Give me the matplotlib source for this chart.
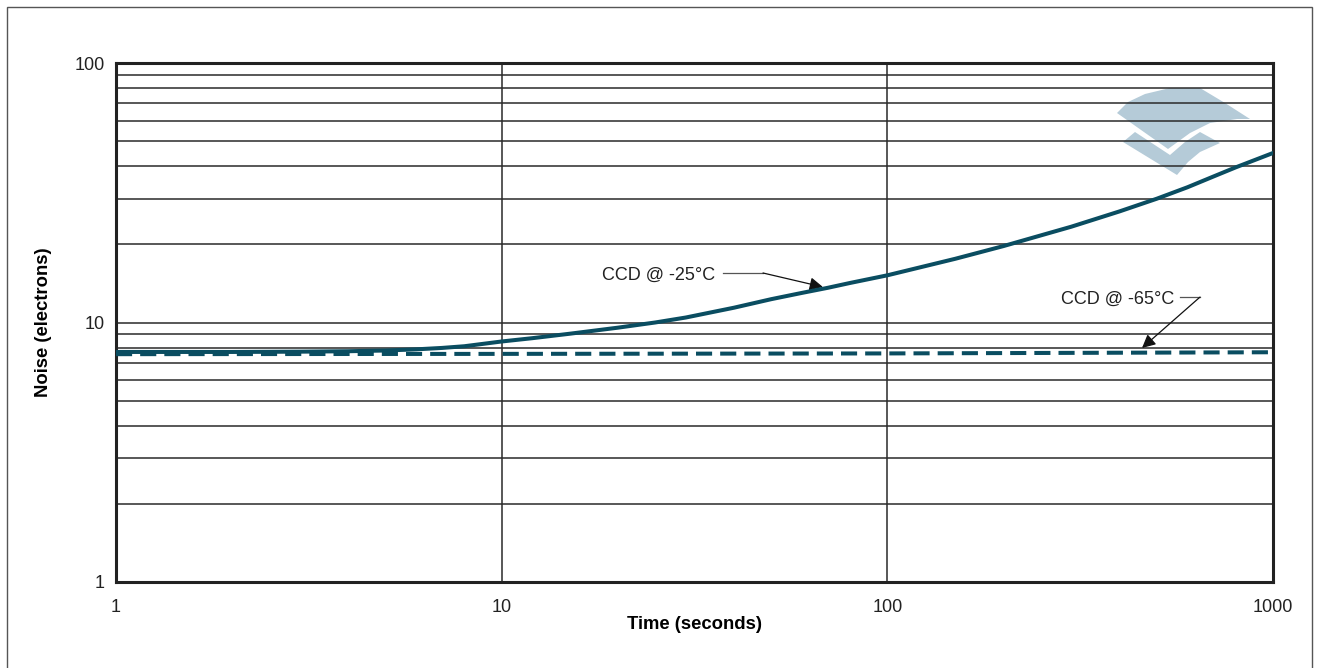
import matplotlib
matplotlib.use("Agg")
import matplotlib.pyplot as plt
from matplotlib.patches import Polygon, Rectangle

plt.rcParams['font.family'] = ['Liberation Sans', 'DejaVu Sans']

# data
time_25 = [1, 2, 3, 4, 5, 6, 7, 8, 10, 12, 15, 20, 25, 30, 40, 50, 60, 70, 80, 100,
           150, 200, 300, 400, 500, 600, 700, 800, 1000]
noise_25 = [7.7, 7.7, 7.72, 7.75, 7.8, 7.88, 7.98, 8.1, 8.45, 8.7, 9.05, 9.55, 10.0, 10.45, 11.4, 12.3, 13.0, 13.6, 14.2, 15.2,
            17.6, 19.7, 23.4, 26.8, 30.0, 33.2, 36.5, 39.6, 45.0]
time_65 = [1, 10, 100, 1000]
noise_65 = [7.55, 7.57, 7.6, 7.68]

xticks = [1, 10, 100, 1000]
yticks = [1, 10, 100]
line_col = '#0a4d61'

W, H = 1320, 668
fig = plt.figure(figsize=(W / 100, H / 100), dpi=100)
ax = fig.add_axes([116 / W, 1 - 582 / H, (1273 - 116) / W, (582 - 63) / H])

ax.set_xscale('log')
ax.set_yscale('log')
ax.set_xlim(1, 1000)
ax.set_ylim(1, 100)
ax.set_axisbelow(True)

# grid: every y gridline (major + minor), only major in x
ax.grid(True, axis='y', which='both', color='#2a2a2a', lw=1.1)
ax.grid(True, axis='x', which='major', color='#2a2a2a', lw=1.1)

ax.plot(time_65, noise_65, color=line_col, lw=2.9, ls=(0, (4.0, 2.0)), zorder=3)
ax.plot(time_25, noise_25, color=line_col, lw=2.9, zorder=4, solid_joinstyle='round')

ax.set_xticks(xticks)
ax.set_xticklabels([str(t) for t in xticks])
ax.set_yticks(yticks)
ax.set_yticklabels([str(t) for t in yticks])
ax.tick_params(which='both', length=0, labelsize=13, colors='#222222')
ax.tick_params(axis='x', pad=12)
ax.tick_params(axis='y', pad=8)
ax.xaxis.set_minor_formatter(plt.NullFormatter())
ax.yaxis.set_minor_formatter(plt.NullFormatter())

for s in ax.spines.values():
    s.set_linewidth(2.2)
    s.set_color('#222222')

ax.set_xlabel('Time (seconds)', fontsize=13.3, fontweight='bold', labelpad=0.5)
ax.set_ylabel('Noise (electrons)', fontsize=13.3, fontweight='bold', labelpad=16)

# annotations
ax.text(0.518, 0.5915, 'CCD @ -25°C', transform=ax.transAxes, ha='right', va='center', fontsize=13, color='#222222')
ax.plot([0.5246, 0.5592], [0.5954, 0.5954], transform=ax.transAxes, color='#555555', lw=0.9)
ax.annotate('', xy=(0.611, 0.5684), xycoords='axes fraction', xytext=(0.5592, 0.5954), textcoords='axes fraction',
            arrowprops=dict(arrowstyle='-|>', color='#111111', lw=0.9, mutation_scale=20, shrinkA=0, shrinkB=0))

ax.text(0.915, 0.545, 'CCD @ -65°C', transform=ax.transAxes, ha='right', va='center', fontsize=13, color='#222222')
ax.plot([0.9196, 0.9369], [0.549, 0.549], transform=ax.transAxes, color='#555555', lw=0.9)
ax.annotate('', xy=(0.8868, 0.4509), xycoords='axes fraction', xytext=(0.9369, 0.549), textcoords='axes fraction',
            arrowprops=dict(arrowstyle='-|>', color='#111111', lw=0.9, mutation_scale=20, shrinkA=0, shrinkB=0))

# watermark logo behind the grid (pixel positions -> figure fraction)
def px(pts):
    return [(x / W, 1 - y / H) for x, y in pts]

top_shape = [(1117, 113), (1128, 102), (1145, 94), (1170, 88), (1200, 88), (1225, 103), (1250, 119),
             (1237, 119), (1210, 123), (1190, 133), (1168, 149)]
low_shape = [(1123, 142), (1135, 132), (1170, 155), (1185, 142), (1200, 132), (1220, 143),
             (1200, 152), (1188, 162), (1177, 175)]
for shp in (top_shape, low_shape):
    ax.add_patch(Polygon(px(shp), closed=True, transform=fig.transFigure,
                         facecolor='#b5cbd8', edgecolor='none', zorder=0.2, clip_on=False))

# figure border
fig.add_artist(Rectangle((7 / W, -0.05), (1312 - 7) / W, 1.05 - 7 / H, transform=fig.transFigure,
                         fill=False, edgecolor='#555555', lw=1.0))

fig.savefig('out.png', dpi=100)
